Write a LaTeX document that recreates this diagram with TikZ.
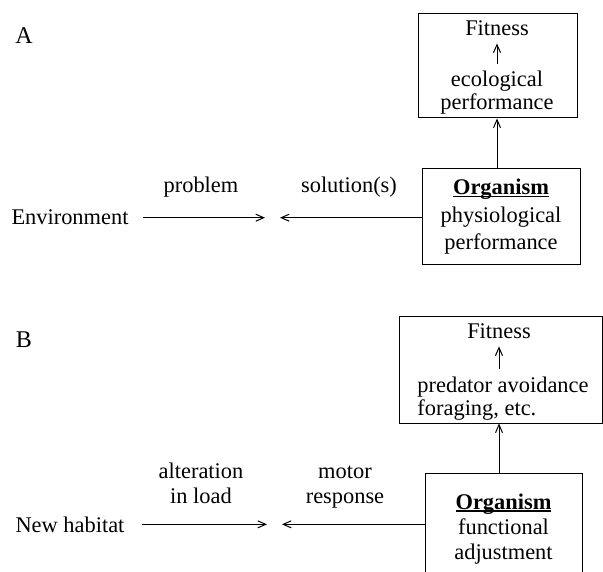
\documentclass[tikz,border=0pt]{standalone}
\usepackage{fontspec}
\setmainfont{Liberation Serif}
\usetikzlibrary{arrows.meta}
\newcommand{\lowline}[1]{\setbox0=\hbox{#1}\rlap{\rule[-2.5pt]{\wd0}{1.4pt}}\box0}

\begin{document}
\begin{tikzpicture}[
    x=1pt, y=-1pt,
    every node/.style={font=\fontsize{22.4}{25}\selectfont, inner sep=7pt},
    txt/.style={anchor=base, align=center},
    frame/.style={draw, line width=1pt, rectangle, align=center},
    link/.style={line width=1pt, -{Straight Barb[length=8pt,width=7pt]}},
    panel/.style={anchor=base, font=\fontsize{24}{26}\selectfont}
  ]
  \clip (0,0) rectangle (603,572);

  % Panel A
  \node[panel] (panA) at (24,44) {A};

  \node[frame, minimum width=159pt, minimum height=104pt] (fitboxA) at (497.5,66) {};
  \node[txt] (fitA) at (497,36) {Fitness};
  \node[txt, font=\fontsize{22.4}{23}\selectfont] (ecoA) at (497,110) {ecological\\performance};
  \draw[link] (ecoA.north) -- (fitA.south);

  \node[frame, minimum width=158pt, minimum height=96pt, font=\fontsize{22.4}{27.5}\selectfont]
    (orgA) at (501,217) {\lowline{\textbf{Organism}}\\physiological\\performance};
  \draw[link] (orgA.north -| fitA.south) -- (fitboxA.south -| fitA.south);

  \node[txt] (envA) at (70,225) {Environment};
  \coordinate (tipRA) at (265,219);
  \coordinate (tipLA) at (280,219);
  \draw[link, shorten <=7pt] (envA.east) -- (envA.east -| tipRA);
  \draw[link] (envA.east -| orgA.west) -- (envA.east -| tipLA);

  \node[txt] (probA) at (201,193) {problem};
  \node[txt] (solA) at (349,193) {solution(s)};

  % Panel B
  \node[panel] (panB) at (24,348) {B};

  \node[frame, minimum width=203pt, minimum height=106pt] (fitboxB) at (500.5,370) {};
  \node[txt] (fitB) at (499,339) {Fitness};
  \node[txt, align=left, font=\fontsize{22.4}{23}\selectfont] (predB) at (503,415) {predator avoidance\\foraging, etc.};
  \draw[link] (fitB.south |- predB.north) -- (fitB.south);

  \node[frame, minimum width=157pt, minimum height=112pt, font=\fontsize{22.4}{25}\selectfont]
    (orgB) at (503.5,529) {\lowline{\textbf{Organism}}\\functional\\adjustment};
  \draw[link] (orgB.north -| fitB.south) -- (fitboxB.south -| fitB.south);

  \node[txt] (habB) at (70,532) {New habitat};
  \coordinate (tipRB) at (267,524);
  \coordinate (tipLB) at (282,524);
  \draw[link, shorten <=10pt] (habB.east) -- (habB.east -| tipRB);
  \draw[link] (habB.east -| orgB.west) -- (habB.east -| tipLB);

  \node[txt] (altB) at (201,503) {alteration\\in load};
  \node[txt] (motB) at (345,503) {motor\\response};
\end{tikzpicture}
\end{document}
